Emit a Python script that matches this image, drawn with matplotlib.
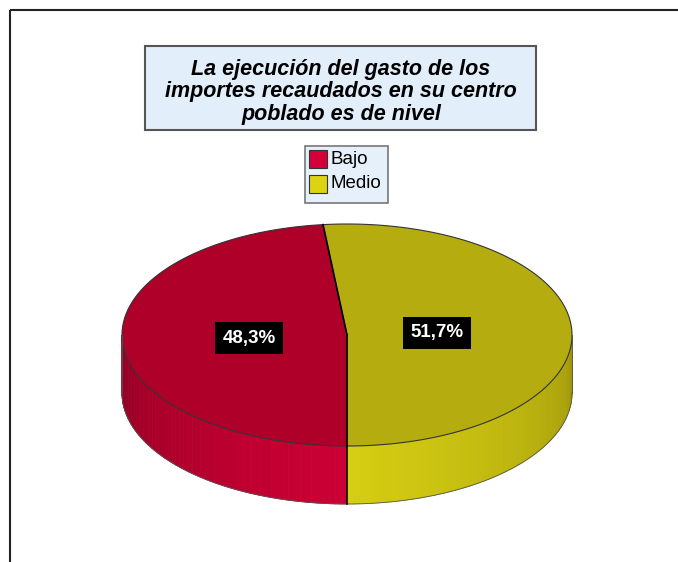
import numpy as np
import matplotlib.pyplot as plt
from matplotlib.patches import Polygon, Rectangle
from matplotlib.colors import to_rgb

# data
categories = ['Bajo', 'Medio']
values = [48.3, 51.7]
labels = ['48,3%', '51,7%']
title = 'La ejecución del gasto de los\nimportes recaudados en su centro\npoblado es de nivel'

top_colors = ['#AE0029', '#B5AD10']
swatch_colors = ['#D4003A', '#DCD412']
side_dark = ['#8A0020', '#9A920A']
side_light = ['#CC0034', '#D6CE12']

fig = plt.figure(figsize=(6.78, 5.62), dpi=100)
ax = fig.add_axes([0, 0, 1, 1])
ax.set_xlim(0, 678)
ax.set_ylim(562, 0)
ax.axis('off')

# outer frame
ax.add_patch(Rectangle((10, 10), 700, 600, fill=False, ec='#222222', lw=1.5))

# pie geometry (pixels)
cx, cy, a, b, depth = 347, 335, 225, 111, 58

def pt(t):
    t = np.radians(t)
    return cx + a * np.cos(t), cy - b * np.sin(t)

# wedge angle ranges, first slice ends at 6 o'clock going through the left
total = sum(values)
bounds = [270]
for v in values:
    bounds.append(bounds[-1] - 360 * v / total)
ranges = [(bounds[1], bounds[0]), (bounds[2], bounds[1])]

def blend(c1, c2, f):
    c1, c2 = np.array(to_rgb(c1)), np.array(to_rgb(c2))
    return c1 + (c2 - c1) * f

# side band (front half only) with shading strips
n = 60
for i in range(2):
    lo, hi = (180, 270) if i == 0 else (-90, 0)
    ts = np.linspace(lo, hi, n + 1)
    for k in range(n):
        s0, s1 = ts[k], ts[k + 1]
        mid = (s0 + s1) / 2
        f = (mid - 180) / 90 if i == 0 else 1 - (mid + 90) / 90
        col = blend(side_dark[i], side_light[i], f ** 0.7)
        seg = np.linspace(s0, s1, 4)
        xs, ys = pt(seg)
        poly = list(zip(xs, ys)) + list(zip(xs[::-1], ys[::-1] + depth))
        ax.add_patch(Polygon(poly, closed=True, fc=col, ec=col, lw=0.6))

# side outline
tt = np.linspace(180, 360, 200)
xs, ys = pt(tt)
ax.plot(xs, ys + depth, color='#555555', lw=0.6)
ax.plot([cx - a, cx - a], [cy, cy + depth], color='#555555', lw=0.6)
ax.plot([cx + a, cx + a], [cy, cy + depth], color='#555555', lw=0.6)
ax.plot([cx, cx], [cy + b, cy + b + depth], color='black', lw=1.2)

# top faces
for i, (t0, t1) in enumerate(ranges):
    tt = np.linspace(t0, t1, 200)
    xs, ys = pt(tt)
    poly = [(cx, cy)] + list(zip(xs, ys))
    ax.add_patch(Polygon(poly, closed=True, fc=top_colors[i], ec='#333333', lw=0.8))
x0, y0 = pt(bounds[1])
ax.plot([cx, x0], [cy, y0], color='black', lw=1.2)
ax.plot([cx, cx], [cy, cy + b], color='black', lw=1.2)

# percentage labels
label_pos = [(249, 338), (437, 333)]
for (lx, ly), txt in zip(label_pos, labels):
    ax.text(lx, ly, txt, color='white', fontsize=13.5, fontweight='bold',
            family='Liberation Sans', ha='center', va='center',
            bbox=dict(boxstyle='square,pad=0.4', fc='black', ec='none'))

# title box
ax.add_patch(Rectangle((145, 46), 391, 84, fc='#E2EEFA', ec='#555555', lw=1.5))
ax.text(341, 92, title, ha='center', va='center', fontsize=15.5,
        fontweight='bold', style='italic', family='Liberation Sans',
        linespacing=1.08)

# legend
ax.add_patch(Rectangle((305, 146), 83, 57, fc='#E6F0FA', ec='#777777', lw=1.2))
for i, cat in enumerate(categories):
    y = 159 + i * 25
    ax.add_patch(Rectangle((309, y - 9), 18, 18, fc=swatch_colors[i], ec='#333333', lw=0.8))
    ax.text(331, y, cat, ha='left', va='center', fontsize=13.5, family='Liberation Sans')

fig.savefig('out.png', dpi=100)
